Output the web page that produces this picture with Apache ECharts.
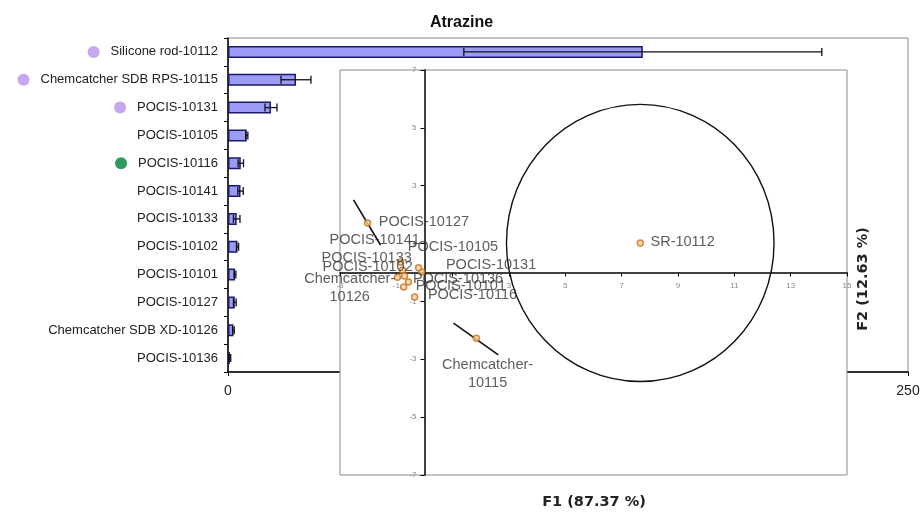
<!DOCTYPE html>
<html>
<head>
<meta charset="utf-8">
<script src="https://cdn.jsdelivr.net/npm/echarts@6/dist/echarts.min.js"></script>
<style>
html,body{margin:0;padding:0;background:#fff;}
#chart{width:923px;height:513px;}
</style>
</head>
<body>
<div id="chart"></div>
<script>
// ---- Bar chart data (Atrazine) ----
const categories = ['Silicone rod-10112','Chemcatcher SDB RPS-10115','POCIS-10131','POCIS-10105','POCIS-10116','POCIS-10141','POCIS-10133','POCIS-10102','POCIS-10101','POCIS-10127','Chemcatcher SDB XD-10126','POCIS-10136'];
const means  = [152.5, 25.0, 15.8, 6.9, 4.7, 4.6, 3.2, 3.5, 2.6, 2.5, 2.0, 0.7];
const errors = [65.8, 5.5, 2.2, 0.4, 1.0, 1.0, 1.2, 0.4, 0.3, 0.5, 0.3, 0.3];
const markerGroups = ['a','a','a','','b','','','','','','',''];
const barTicks = [0, 250];

// ---- PCA scatter data ----
const pcaNames = ['SR-10112','Chemcatcher-\n10115','POCIS-10131','POCIS-10105','POCIS-10116','POCIS-10141','POCIS-10133','POCIS-10102','POCIS-10101','POCIS-10127','Chemcatcher-\n10126','POCIS-10136'];
const f1 = [7.66, 1.84, -0.10, -0.21, -0.35, -0.85, -0.78, -0.71, -0.57, -2.02, -0.96, -0.74];
const f2 = [1.02, -2.27, 0.02, 0.16, -0.85, 0.36, 0.09, -0.12, -0.33, 1.71, -0.16, -0.50];
const seg10127 = [[-2.52, 2.51], [-1.56, 0.95]];
const seg10115 = [[1.03, -1.75], [2.62, -2.85]];
const ellipseCenter = [7.66, 1.02];
const ellipseRadii = [4.75, 4.79];

// ---- build ----
const chart = echarts.init(document.getElementById('chart'));
const FONT = 'Liberation Sans, Arial, sans-serif';
const markerColors = {a: '#c7a6f2', b: '#2e9a5e'};

const labelLayout = {
  'SR-10112': [11, 0, 'left'],
  'Chemcatcher-\n10115': [12, 37, 'center'],
  'POCIS-10131': [25, -6, 'left'],
  'POCIS-10105': [-10, -20, 'left'],
  'POCIS-10116': [14, -1, 'left'],
  'POCIS-10141': [20, -21, 'right'],
  'POCIS-10133': [10, -11, 'right'],
  'POCIS-10102': [9, -8, 'right'],
  'POCIS-10101': [8, 5, 'left'],
  'POCIS-10127': [12, 0, 'left'],
  'Chemcatcher-\n10126': [-47, 11.5, 'center'],
  'POCIS-10136': [10, -7, 'left']
};

const scatterData = pcaNames.map((n, i) => {
  const l = labelLayout[n];
  return {
    value: [f1[i], f2[i]],
    name: n,
    label: {show: true, formatter: n, position: [l[0] + 3, l[1] + 3], align: l[2], verticalAlign: 'middle'}
  };
});

// scatter grid geometry (layout only)
const sg = {left: 340, top: 70, width: 507, height: 405};
const xMin = -3, xMax = 15, yMin = -7, yMax = 7;
const xAxisOffset = -(sg.height * (0 - yMin) / (yMax - yMin));
const yAxisOffset = -(sg.width * (0 - xMin) / (xMax - xMin));

const option = {
  animation: false,
  backgroundColor: '#fff',
  title: {
    text: 'Atrazine', left: 'center', top: 10,
    textStyle: {fontFamily: FONT, fontWeight: 'bold', fontSize: 16, color: '#111'}
  },
  grid: [
    {left: 228, right: 15, top: 38, bottom: 141, show: true, borderColor: '#8a8a8a', borderWidth: 1, backgroundColor: 'transparent', z: 0},
    {left: sg.left, top: sg.top, width: sg.width, height: sg.height, show: true, borderColor: '#8a8a8a', borderWidth: 1, backgroundColor: '#fff', z: 4}
  ],
  xAxis: [
    {
      gridIndex: 0, type: 'value', min: 0, max: 250, interval: 50,
      axisLine: {show: true, lineStyle: {color: '#000', width: 1.5}},
      axisTick: {show: true, length: 4, lineStyle: {color: '#000'}},
      splitLine: {show: false},
      axisLabel: {fontFamily: FONT, fontSize: 14, color: '#222', margin: 12,
        formatter: v => barTicks.indexOf(v) >= 0 ? String(v) : ''},
      z: 0
    },
    {
      gridIndex: 1, type: 'value', min: xMin, max: xMax, interval: 2, position: 'bottom', offset: xAxisOffset,
      axisLine: {onZero: false, lineStyle: {color: '#000', width: 1.5}},
      axisTick: {show: true, length: 4, inside: false, lineStyle: {color: '#000'}},
      splitLine: {show: false},
      axisLabel: {fontFamily: FONT, fontSize: 8, color: '#888', margin: 9},
      z: 5
    }
  ],
  yAxis: [
    {
      gridIndex: 0, type: 'category', data: categories, inverse: true,
      axisLine: {show: true, lineStyle: {color: '#000', width: 1.5}},
      axisTick: {show: true, length: 4, alignWithLabel: false, lineStyle: {color: '#000'}},
      axisLabel: {
        fontFamily: FONT, fontSize: 13, color: '#222', margin: 10,
        formatter: (v, i) => markerGroups[i] ? '{' + markerGroups[i] + '|}{g|}' + v : v,
        rich: {
          a: {width: 12, height: 12, borderRadius: 6, backgroundColor: markerColors.a},
          b: {width: 12, height: 12, borderRadius: 6, backgroundColor: markerColors.b},
          g: {width: 11}
        }
      },
      z: 0
    },
    {
      gridIndex: 1, type: 'value', min: yMin, max: yMax, interval: 2, position: 'left', offset: yAxisOffset,
      axisLine: {onZero: false, lineStyle: {color: '#000', width: 1.5}},
      axisTick: {show: true, length: 4, lineStyle: {color: '#000'}},
      splitLine: {show: false},
      axisLabel: {fontFamily: FONT, fontSize: 8, color: '#888', margin: 8},
      z: 5
    }
  ],
  series: [
    {
      type: 'bar', xAxisIndex: 0, yAxisIndex: 0, data: means, barWidth: 12, z: 2,
      itemStyle: {color: '#9c9cf6', borderColor: '#1a1a66', borderWidth: 1.5}
    },
    {
      type: 'custom', xAxisIndex: 0, yAxisIndex: 0, z: 3,
      data: means.map((m, i) => [i, m, errors[i]]),
      renderItem: function (params, api) {
        const idx = api.value(0), m = api.value(1), e = api.value(2);
        const lo = api.coord([Math.max(0, m - e), idx]);
        const hi = api.coord([m + e, idx]);
        const h = 4;
        const st = {stroke: '#111', lineWidth: 1.3};
        return {type: 'group', children: [
          {type: 'line', shape: {x1: lo[0], y1: lo[1], x2: hi[0], y2: hi[1]}, style: st},
          {type: 'line', shape: {x1: lo[0], y1: lo[1] - h, x2: lo[0], y2: lo[1] + h}, style: st},
          {type: 'line', shape: {x1: hi[0], y1: hi[1] - h, x2: hi[0], y2: hi[1] + h}, style: st}
        ]};
      }
    },
    {
      type: 'custom', xAxisIndex: 1, yAxisIndex: 1, z: 6, silent: true,
      data: [[ellipseCenter[0], ellipseCenter[1], ellipseRadii[0], ellipseRadii[1]]],
      renderItem: function (params, api) {
        const c = api.coord([api.value(0), api.value(1)]);
        const rx = api.size([api.value(2), 0])[0];
        const ry = api.size([0, api.value(3)])[1];
        return {type: 'ellipse', shape: {cx: c[0], cy: c[1], rx: rx, ry: ry},
          style: {fill: 'none', stroke: '#111', lineWidth: 1.4}};
      }
    },
    {
      type: 'line', xAxisIndex: 1, yAxisIndex: 1, data: seg10127, symbol: 'none', z: 6,
      lineStyle: {color: '#111', width: 1.6}
    },
    {
      type: 'line', xAxisIndex: 1, yAxisIndex: 1, data: seg10115, symbol: 'none', z: 6,
      lineStyle: {color: '#111', width: 1.6}
    },
    {
      type: 'scatter', xAxisIndex: 1, yAxisIndex: 1, z: 7, symbol: 'circle', symbolSize: 6,
      itemStyle: {color: '#f7cf98', borderColor: '#c8701a', borderWidth: 1.5},
      label: {fontFamily: FONT, fontSize: 14.5, color: '#333', lineHeight: 18},
      data: scatterData
    }
  ],
  graphic: [
    {type: 'text', x: 594, y: 502, z: 10,
      style: {text: 'F1 (87.37 %)', fontFamily: 'DejaVu Sans, sans-serif', fontWeight: 'bold', fontSize: 14.5, fill: '#222', textAlign: 'center', textVerticalAlign: 'middle'}},
    {type: 'text', x: 863, y: 279, rotation: Math.PI / 2, z: 10,
      style: {text: 'F2 (12.63 %)', fontFamily: 'DejaVu Sans, sans-serif', fontWeight: 'bold', fontSize: 14.5, fill: '#222', textAlign: 'center', textVerticalAlign: 'middle'}}
  ]
};
chart.setOption(option);
</script>
</body>
</html>
